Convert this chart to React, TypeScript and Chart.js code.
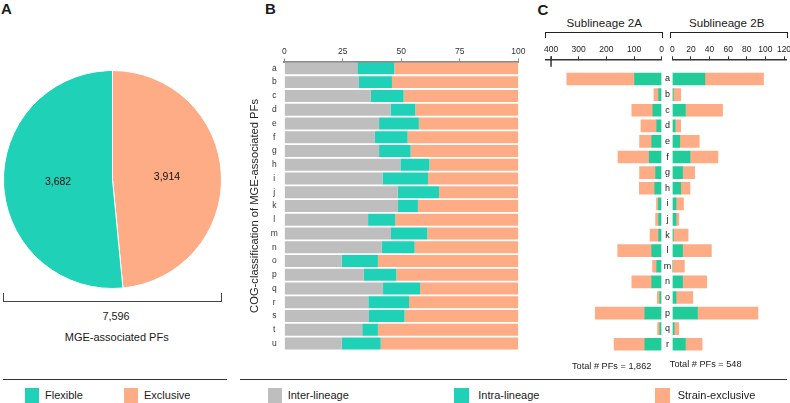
import React, { useEffect, useRef } from 'react';
import { Chart, registerables } from 'chart.js';

Chart.register(...registerables);

const FONT = '"Liberation Sans", Arial, Helvetica, sans-serif';
Chart.defaults.font.family = FONT;

const TEAL = '#1FD1B7';
const TEAL_C = '#22CC99';
const SALMON = '#FDAC86';
const GRAY = '#BEBEBE';

// ---------- Panel A (slice sizes as drawn, clockwise from 12 o'clock) ----------
const pieCategories = ['Exclusive', 'Flexible'];
const pieSliceValues = [3682, 3914];
const pieSliceTexts = ['3,914', '3,682'];
const pieTotalText = '7,596';
const pieCaption = 'MGE-associated PFs';

// ---------- Panel B (percent of PFs) ----------
const cogCategories = ['a', 'b', 'c', 'd', 'e', 'f', 'g', 'h', 'i', 'j', 'k', 'l', 'm', 'n', 'o', 'p', 'q', 'r', 's', 't', 'u'];
const interLineage = [31.2, 31.9, 37.0, 45.4, 40.5, 38.7, 40.5, 49.6, 42.0, 48.4, 48.6, 35.8, 45.6, 41.7, 24.5, 34.0, 42.2, 35.9, 36.2, 33.3, 24.6];
const intraLineage = [15.8, 14.1, 14.0, 10.6, 17.0, 14.0, 13.5, 12.4, 19.4, 17.7, 8.5, 11.6, 15.5, 14.0, 15.5, 13.9, 15.8, 17.4, 15.2, 6.7, 16.6];
const strainExclusive = [53.0, 54.0, 49.0, 44.0, 42.5, 47.3, 46.0, 38.0, 38.6, 33.9, 42.9, 52.6, 38.9, 44.3, 60.0, 52.1, 42.0, 46.7, 48.6, 60.0, 58.8];
const bTicks = [0, 25, 50, 75, 100];
const bAxisTitle = 'COG-classification of MGE-associated PFs';

// ---------- Panel C (number of PFs) ----------
const cCategories = ['a', 'b', 'c', 'd', 'e', 'f', 'g', 'h', 'i', 'j', 'k', 'l', 'm', 'n', 'o', 'p', 'q', 'r'];
const sub2A_intra = [98, 11, 32, 18, 36, 45, 22, 25, 12, 11, 11, 36, 18, 36, 7, 61, 7, 61];
const sub2A_exclusive = [245, 17, 76, 57, 44, 113, 58, 56, 7, 11, 31, 123, 15, 72, 9, 179, 8, 111];
const sub2B_intra = [35, 1, 14, 3, 8, 19, 11, 9, 4, 4, 1, 11, 0, 11, 4, 27, 2, 14];
const sub2B_exclusive = [63, 8, 40, 6, 21, 30, 13, 10, 8, 3, 16, 31, 13, 26, 18, 65, 5, 18];
const sub2ATicks = [0, 100, 200, 300, 400];
const sub2BTicks = [0, 20, 40, 60, 80, 100, 120];
const sub2ATitle = 'Sublineage 2A';
const sub2BTitle = 'Sublineage 2B';
const sub2ATotal = 'Total # PFs = 1,862';
const sub2BTotal = 'Total # PFs = 548';

const legendA = [
  { label: 'Flexible', color: TEAL },
  { label: 'Exclusive', color: SALMON },
];
const legendB = [
  { label: 'Inter-lineage', color: GRAY },
  { label: 'Intra-lineage', color: TEAL },
  { label: 'Strain-exclusive', color: SALMON },
];

type TxtProps = { x: number; y: number; s: number; w?: string | number; left?: boolean; children: React.ReactNode };
const Txt = ({ x, y, s, w = 'normal', left = false, children }: TxtProps) => (
  <div
    style={{
      position: 'absolute',
      left: x,
      top: y,
      transform: left ? 'translate(0,-50%)' : 'translate(-50%,-50%)',
      fontSize: s,
      fontWeight: w as any,
      lineHeight: 1,
      whiteSpace: 'nowrap',
      color: '#1a1a1a',
      fontFamily: FONT,
    }}
  >
    {children}
  </div>
);

const Box = (p: { x: number; y: number; w: number; h: number; style?: React.CSSProperties }) => (
  <div style={{ position: 'absolute', left: p.x, top: p.y, width: p.w, height: p.h, boxSizing: 'border-box', ...p.style }} />
);

const cTickFont = { size: 8.5 };

export default function App() {
  const pieRef = useRef<HTMLCanvasElement>(null);
  const bRef = useRef<HTMLCanvasElement>(null);
  const cLeftRef = useRef<HTMLCanvasElement>(null);
  const cRightRef = useRef<HTMLCanvasElement>(null);

  useEffect(() => {
    const charts: Chart[] = [];

    charts.push(
      new Chart(pieRef.current!, {
        type: 'pie',
        data: {
          labels: pieCategories,
          datasets: [{ data: pieSliceValues, backgroundColor: [SALMON, TEAL], borderColor: '#ffffff', borderWidth: 1 }],
        },
        options: {
          responsive: false,
          animation: false,
          layout: { padding: 3 },
          plugins: { legend: { display: false }, tooltip: { enabled: false } },
        },
        plugins: [
          {
            id: 'pieText',
            afterDatasetsDraw(chart: any) {
              const ctx = chart.ctx;
              const meta = chart.getDatasetMeta(0);
              ctx.save();
              ctx.font = `10.5px ${FONT}`;
              ctx.fillStyle = '#111';
              ctx.textAlign = 'center';
              ctx.textBaseline = 'middle';
              meta.data.forEach((arc: any, i: number) => {
                const p = arc.getCenterPoint();
                ctx.fillText(pieSliceTexts[i], p.x, p.y);
              });
              ctx.restore();
            },
          },
        ],
      } as any)
    );

    charts.push(
      new Chart(bRef.current!, {
        type: 'bar',
        data: {
          labels: cogCategories,
          datasets: [
            { label: 'Inter-lineage', data: interLineage, backgroundColor: GRAY },
            { label: 'Intra-lineage', data: intraLineage, backgroundColor: TEAL },
            { label: 'Strain-exclusive', data: strainExclusive, backgroundColor: SALMON },
          ],
        },
        options: {
          indexAxis: 'y',
          responsive: false,
          animation: false,
          layout: { padding: { left: 0, right: 11.7, top: 0, bottom: 10.1 } },
          datasets: { bar: { barPercentage: 0.87, categoryPercentage: 1, borderWidth: 0 } },
          plugins: { legend: { display: false }, tooltip: { enabled: false } },
          scales: {
            x: {
              type: 'linear',
              position: 'top',
              stacked: true,
              min: 0,
              max: 100,
              afterBuildTicks: (s: any) => {
                s.ticks = bTicks.map((v) => ({ value: v }));
              },
              afterFit: (s: any) => {
                s.height = 61.5;
              },
              ticks: { font: { size: 8.5 }, color: '#333', padding: 2, maxRotation: 0, minRotation: 0 },
              grid: { drawOnChartArea: false, tickLength: 3, color: '#888' },
              border: { color: '#8a8a8a', width: 2 },
            },
            y: {
              stacked: true,
              afterFit: (s: any) => {
                s.width = 44.3;
              },
              ticks: { font: { size: 8.5 }, color: '#333', padding: 6.5, crossAlign: 'center' },
              grid: { display: false, drawTicks: false },
              border: { display: false },
              title: {
                display: true,
                text: bAxisTitle,
                font: { size: 11.2 },
                color: '#222',
                padding: { top: 8, bottom: 0 },
              },
            },
          },
        },
      } as any)
    );

    const cY = (display: boolean, extra: any = {}) => ({
      type: 'linear',
      display,
      stacked: true,
      reverse: true,
      offset: false,
      grace: 0,
      bounds: 'data',
      min: -1.263,
      max: 17.686,
      ...extra,
    });

    charts.push(
      new Chart(cLeftRef.current!, {
        type: 'bar',
        data: {
          datasets: [
            { label: 'Intra-lineage', data: sub2A_intra.map((v, i) => ({ x: v, y: i })), backgroundColor: TEAL_C },
            { label: 'Strain-exclusive', data: sub2A_exclusive.map((v, i) => ({ x: v, y: i })), backgroundColor: SALMON },
          ],
        },
        options: {
          indexAxis: 'y',
          responsive: false,
          animation: false,
          layout: { padding: { left: 5.5, right: 8.3, top: 0, bottom: 7 } },
          datasets: { bar: { barThickness: 12, borderWidth: 0 } },
          plugins: { legend: { display: false }, tooltip: { enabled: false } },
          scales: {
            x: {
              type: 'linear',
              position: 'top',
              stacked: true,
              reverse: true,
              min: 0,
              max: 420,
              afterBuildTicks: (s: any) => {
                s.ticks = sub2ATicks.map((v) => ({ value: v }));
              },
              afterFit: (s: any) => {
                s.height = 59.3;
              },
              ticks: { font: cTickFont, color: '#222', padding: 2, maxRotation: 0, minRotation: 0, autoSkip: false },
              grid: { drawOnChartArea: false, tickLength: 3, color: '#333' },
              border: { color: '#333', width: 1.6 },
            },
            y: cY(false),
          },
        },
        plugins: [
          {
            id: 'longEndTick',
            afterDraw(chart: any) {
              const sx = chart.scales.x;
              const px = sx.getPixelForValue(sub2ATicks[sub2ATicks.length - 1]);
              const top = chart.chartArea.top;
              const ctx = chart.ctx;
              ctx.save();
              ctx.strokeStyle = '#333';
              ctx.lineWidth = 1.5;
              ctx.beginPath();
              ctx.moveTo(px, top - 3);
              ctx.lineTo(px, top + 7.5);
              ctx.stroke();
              ctx.restore();
            },
          },
        ],
      } as any)
    );

    charts.push(
      new Chart(cRightRef.current!, {
        type: 'bar',
        data: {
          datasets: [
            { label: 'Intra-lineage', data: sub2B_intra.map((v, i) => ({ x: v, y: i })), backgroundColor: TEAL_C },
            { label: 'Strain-exclusive', data: sub2B_exclusive.map((v, i) => ({ x: v, y: i })), backgroundColor: SALMON },
          ],
        },
        options: {
          indexAxis: 'y',
          responsive: false,
          animation: false,
          layout: { padding: { left: 0, right: 23.2, top: 0, bottom: 7 } },
          datasets: { bar: { barThickness: 12, borderWidth: 0 } },
          plugins: { legend: { display: false }, tooltip: { enabled: false } },
          scales: {
            x: {
              type: 'linear',
              position: 'top',
              stacked: true,
              min: 0,
              max: 123,
              afterBuildTicks: (s: any) => {
                s.ticks = sub2BTicks.map((v) => ({ value: v }));
              },
              afterFit: (s: any) => {
                s.height = 59.3;
              },
              ticks: { font: cTickFont, color: '#222', padding: 2, maxRotation: 0, minRotation: 0, autoSkip: false },
              grid: { drawOnChartArea: false, tickLength: 3, color: '#333' },
              border: { color: '#333', width: 1.6 },
            },
            y: cY(true, {
              position: 'left',
              afterBuildTicks: (s: any) => {
                s.ticks = cCategories.map((_, i) => ({ value: i }));
              },
              afterFit: (s: any) => {
                s.width = 12.3;
              },
              ticks: {
                autoSkip: false,
                font: { size: 9 },
                color: '#222',
                padding: 1,
                crossAlign: 'center',
                callback: (v: any) => cCategories[v] ?? '',
              },
              grid: { display: false, drawTicks: false, offset: false },
              border: { display: false },
            }),
          },
        },
      } as any)
    );

    return () => charts.forEach((c) => c.destroy());
  }, []);

  return (
    <div
      style={{
        position: 'absolute',
        left: 0,
        top: 0,
        width: 790,
        height: 403,
        overflow: 'hidden',
        background: '#fff',
        fontFamily: FONT,
      }}
    >
      {/* Panel letters */}
      <Txt x={6.3} y={8.4} s={15} w="bold">A</Txt>
      <Txt x={270.5} y={8.2} s={15} w="bold">B</Txt>
      <Txt x={543} y={8.8} s={15} w="bold">C</Txt>

      {/* Panel A */}
      <canvas ref={pieRef} width={225} height={225} style={{ position: 'absolute', left: 0, top: 67, width: 225, height: 225 }} />
      <Box x={3} y={293} w={219} h={9} style={{ borderLeft: '1.5px solid #444', borderRight: '1.5px solid #444', borderBottom: '1.5px solid #444' }} />
      <Txt x={116} y={315.5} s={10.8}>{pieTotalText}</Txt>
      <Txt x={116.7} y={336.8} s={11}>{pieCaption}</Txt>

      {/* Panel B */}
      <canvas ref={bRef} width={290} height={362} style={{ position: 'absolute', left: 240, top: 0, width: 290, height: 362 }} />

      {/* Panel C */}
      <Txt x={604.3} y={23} s={11.6}>{sub2ATitle}</Txt>
      <Txt x={726.7} y={23} s={11.6}>{sub2BTitle}</Txt>
      <Box x={545} y={32} w={117.7} h={5.5} style={{ borderLeft: '1.3px solid #222', borderRight: '1.3px solid #222', borderTop: '1.3px solid #222' }} />
      <Box x={670} y={32} w={117.7} h={5.5} style={{ borderLeft: '1.3px solid #222', borderRight: '1.3px solid #222', borderTop: '1.3px solid #222' }} />
      <canvas ref={cLeftRef} width={130} height={362} style={{ position: 'absolute', left: 540, top: 0, width: 130, height: 362 }} />
      <canvas ref={cRightRef} width={150} height={362} style={{ position: 'absolute', left: 660, top: 0, width: 150, height: 362 }} />
      <Txt x={611.7} y={366.8} s={9.2}>{sub2ATotal}</Txt>
      <Txt x={705.7} y={364.5} s={9.2}>{sub2BTotal}</Txt>

      {/* Separator rules */}
      <Box x={3} y={378.5} w={224} h={0} style={{ borderTop: '1.8px solid #333' }} />
      <Box x={240} y={379} w={547} h={0} style={{ borderTop: '1.8px solid #333' }} />

      {/* Legend A */}
      <Box x={25} y={388} w={14} h={15} style={{ background: legendA[0].color }} />
      <Txt x={45} y={395} s={11} left>{legendA[0].label}</Txt>
      <Box x={124.3} y={388} w={14} h={15} style={{ background: legendA[1].color }} />
      <Txt x={144} y={395} s={11} left>{legendA[1].label}</Txt>

      {/* Legend B/C */}
      <Box x={267.7} y={388} w={14.6} h={15} style={{ background: legendB[0].color }} />
      <Txt x={287.7} y={395} s={11} left>{legendB[0].label}</Txt>
      <Box x={454} y={388} w={15} h={15} style={{ background: legendB[1].color }} />
      <Txt x={478.3} y={394.5} s={11} left>{legendB[1].label}</Txt>
      <Box x={655} y={388} w={14.5} h={15} style={{ background: legendB[2].color }} />
      <Txt x={677.7} y={395} s={11} left>{legendB[2].label}</Txt>
    </div>
  );
}
